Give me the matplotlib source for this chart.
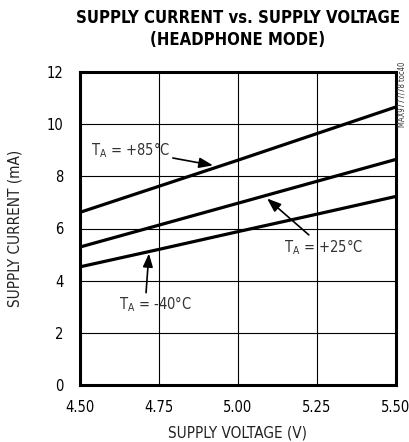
import numpy as np
import matplotlib
matplotlib.use("Agg")
import matplotlib.pyplot as plt

plt.rcParams['font.family'] = ['DejaVu Sans']
plt.rcParams['font.stretch'] = 'condensed'
plt.rcParams['mathtext.fontset'] = 'custom'
plt.rcParams['mathtext.rm'] = 'DejaVu Sans:stretch=condensed'

# data
voltage = [4.50, 4.75, 5.00, 5.25, 5.50]
i_85 = [6.62, 7.62, 8.62, 9.64, 10.66]
i_25 = [5.29, 6.13, 6.97, 7.81, 8.65]
i_m40 = [4.53, 5.20, 5.88, 6.55, 7.23]
xticks = [4.50, 4.75, 5.00, 5.25, 5.50]
yticks = [0, 2, 4, 6, 8, 10, 12]

fig = plt.figure(figsize=(4.10, 4.42), dpi=100)
ax = fig.add_axes([80/410, 1-385/442, 316/410, 313/442])

for y in (i_85, i_25, i_m40):
    ax.plot(voltage, y, color='black', lw=2.3, solid_capstyle='butt', zorder=3)

ax.set_xlim(4.5, 5.5)
ax.set_ylim(0, 12)
ax.set_xticks(xticks)
ax.set_xticklabels(['%.2f' % v for v in xticks])
ax.set_yticks(yticks)
ax.grid(True, color='black', lw=0.8)
ax.tick_params(length=0, labelsize=10.5, color='#222222')
ax.tick_params(axis='x', pad=11)
ax.tick_params(axis='y', pad=12)
for s in ax.spines.values():
    s.set_linewidth(2.2)

ax.set_xlabel('SUPPLY VOLTAGE (V)', fontsize=11, labelpad=7, color='#222222')
ax.set_ylabel('SUPPLY CURRENT (mA)', fontsize=11, labelpad=17, color='#222222')

fig.text(238/410, 1-18/442, 'SUPPLY CURRENT vs. SUPPLY VOLTAGE', ha='center', va='center',
         fontsize=12, fontweight='bold')
fig.text(238/410, 1-40/442, '(HEADPHONE MODE)', ha='center', va='center',
         fontsize=12, fontweight='bold')
fig.text(402/410, 1-62/442, 'MAX9777/78 toc40', rotation=90, ha='center', va='top',
         fontsize=5.5, color='#333333')

arrow = dict(arrowstyle='-|>,head_length=0.8,head_width=0.3', color='black', lw=1.2,
             shrinkA=0, shrinkB=0)
ax.annotate(r'T$_\mathrm{A}$ = +85°C', xy=(4.921, 8.42), xytext=(4.785, 9.0),
            ha='right', va='center', fontsize=10.5, color='#333333', arrowprops=arrow)
ax.annotate(r'T$_\mathrm{A}$ = +25°C', xy=(5.092, 7.15), xytext=(5.27, 5.27),
            ha='center', va='center', fontsize=10.5, color='#333333', arrowprops=arrow,
            zorder=4)
ax.text(4.74, 3.1, r'T$_\mathrm{A}$ = -40°C', ha='center', va='center', fontsize=10.5,
        color='#333333')
ax.annotate('', xy=(4.718, 5.04), xytext=(4.709, 3.54), arrowprops=arrow)

fig.savefig('out.png', dpi=100, facecolor='white')
